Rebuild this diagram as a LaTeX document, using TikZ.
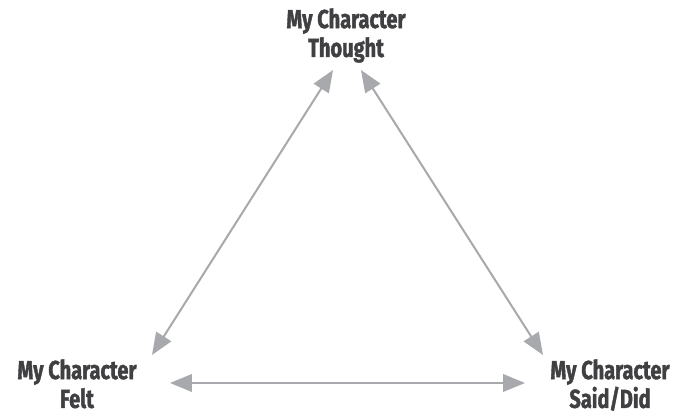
\documentclass[tikz,border=0pt]{standalone}
\usepackage{fontspec}
\setmainfont{Fira Sans}[FakeStretch=0.77,BoldFeatures={FakeBold=1.5}]
\usetikzlibrary{arrows.meta,positioning}
\definecolor{chInk}{RGB}{64,64,66}
\definecolor{chArrow}{RGB}{168,169,173}
\begin{document}
\begin{tikzpicture}[x=0.02cm,y=0.02cm,
    every node/.style={align=center},
    corner/.style={font=\bfseries\fontsize{14.8}{16.4}\selectfont,text=chInk,inner sep=0pt},
    link/.style={{Triangle[length=12.5pt,width=10pt]}-{Triangle[length=12.5pt,width=10pt]},
                 line width=1.15pt,draw=chArrow,color=chArrow}
  ]
  \useasboundingbox (0,0) rectangle (677,410);
  % Corners
  \node[corner,anchor=north] (thought) at (346,402) {My Character\\Thought};
  \node[corner,anchor=north] (felt)    at (77,51)   {My Character\\Felt};
  \node[corner,anchor=north] (said)    at (610,51)  {My Character\\Said/Did};
  % Arrow ends
  \coordinate (thoughtL) at (333,340);
  \coordinate (thoughtR) at (361,340);
  \coordinate (feltT)    at (152,55);
  \coordinate (feltR)    at (170,27);
  \coordinate (saidT)    at (543,55);
  \coordinate (saidL)    at (525,27);
  % Links
  \draw[link] (feltT) -- (thoughtL);
  \draw[link] (thoughtR) -- (saidT);
  \draw[link] (feltR) -- (saidL);
\end{tikzpicture}
\end{document}
